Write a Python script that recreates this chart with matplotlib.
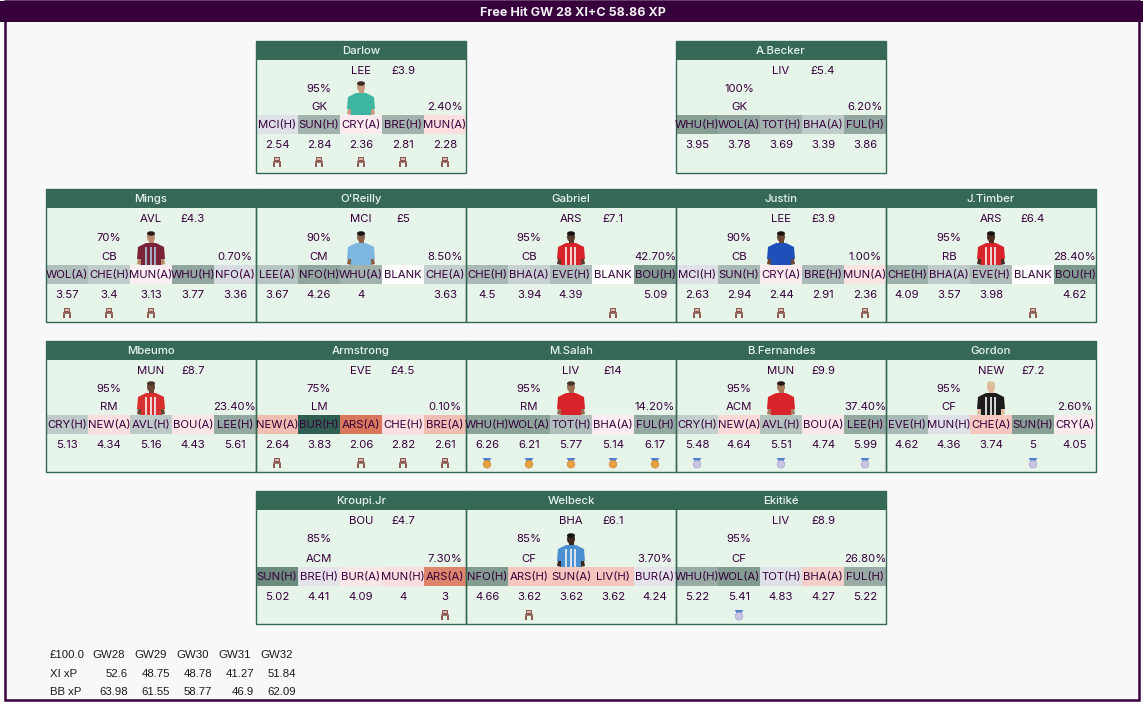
import matplotlib
matplotlib.use("Agg")
import matplotlib.pyplot as plt
from matplotlib.colors import LinearSegmentedColormap
from matplotlib.patches import Rectangle, Polygon, Circle, Ellipse

plt.rcParams['font.family'] = ['Inter', 'DejaVu Sans']

# Data
title = "Free Hit GW 28 XI+C 58.86 XP"
players = ["Darlow", "A.Becker", "Mings", "O'Reilly", "Gabriel", "Justin", "J.Timber", "Mbeumo",
           "Armstrong", "M.Salah", "B.Fernandes", "Gordon", "Kroupi.Jr", "Welbeck", "Ekitiké"]
teams = ["LEE", "LIV", "AVL", "MCI", "ARS", "LEE", "ARS", "MUN", "EVE", "LIV", "MUN", "NEW", "BOU", "BHA", "LIV"]
prices = ["£3.9", "£5.4", "£4.3", "£5", "£7.1", "£3.9", "£6.4", "£8.7", "£4.5", "£14", "£9.9", "£7.2", "£4.7", "£6.1", "£8.9"]
chances = ["95%", "100%", "70%", "90%", "95%", "90%", "95%", "95%", "75%", "95%", "95%", "95%", "85%", "85%", "95%"]
positions = ["GK", "GK", "CB", "CM", "CB", "CB", "RB", "RM", "LM", "RM", "ACM", "CF", "ACM", "CF", "CF"]
ownership = ["2.40%", "6.20%", "0.70%", "8.50%", "42.70%", "1.00%", "28.40%", "23.40%", "0.10%",
             "14.20%", "37.40%", "2.60%", "7.30%", "3.70%", "26.80%"]

fixtures = [
    ["MCI(H)", "SUN(H)", "CRY(A)", "BRE(H)", "MUN(A)"],
    ["WHU(H)", "WOL(A)", "TOT(H)", "BHA(A)", "FUL(H)"],
    ["WOL(A)", "CHE(H)", "MUN(A)", "WHU(H)", "NFO(A)"],
    ["LEE(A)", "NFO(H)", "WHU(A)", "BLANK", "CHE(A)"],
    ["CHE(H)", "BHA(A)", "EVE(H)", "BLANK", "BOU(H)"],
    ["MCI(H)", "SUN(H)", "CRY(A)", "BRE(H)", "MUN(A)"],
    ["CHE(H)", "BHA(A)", "EVE(H)", "BLANK", "BOU(H)"],
    ["CRY(H)", "NEW(A)", "AVL(H)", "BOU(A)", "LEE(H)"],
    ["NEW(A)", "BUR(H)", "ARS(A)", "CHE(H)", "BRE(A)"],
    ["WHU(H)", "WOL(A)", "TOT(H)", "BHA(A)", "FUL(H)"],
    ["CRY(H)", "NEW(A)", "AVL(H)", "BOU(A)", "LEE(H)"],
    ["EVE(H)", "MUN(H)", "CHE(A)", "SUN(H)", "CRY(A)"],
    ["SUN(H)", "BRE(H)", "BUR(A)", "MUN(H)", "ARS(A)"],
    ["NFO(H)", "ARS(H)", "SUN(A)", "LIV(H)", "BUR(A)"],
    ["WHU(H)", "WOL(A)", "TOT(H)", "BHA(A)", "FUL(H)"],
]
xp = [
    ["2.54", "2.84", "2.36", "2.81", "2.28"],
    ["3.95", "3.78", "3.69", "3.39", "3.86"],
    ["3.57", "3.4", "3.13", "3.77", "3.36"],
    ["3.67", "4.26", "4", "", "3.63"],
    ["4.5", "3.94", "4.39", "", "5.09"],
    ["2.63", "2.94", "2.44", "2.91", "2.36"],
    ["4.09", "3.57", "3.98", "", "4.62"],
    ["5.13", "4.34", "5.16", "4.43", "5.61"],
    ["2.64", "3.83", "2.06", "2.82", "2.61"],
    ["6.26", "6.21", "5.77", "5.14", "6.17"],
    ["5.48", "4.64", "5.51", "4.74", "5.99"],
    ["4.62", "4.36", "3.74", "5", "4.05"],
    ["5.02", "4.41", "4.09", "4", "3"],
    ["4.66", "3.62", "3.62", "3.62", "4.24"],
    ["5.22", "5.41", "4.83", "4.27", "5.22"],
]
# fixture shade, -1 hard to 1 easy, None for a blank gameweek
ratings = [
    [.2, .6, -.05, .6, -.2],
    [.75, .7, .6, .4, .7],
    [.5, .4, 0, .7, .25],
    [.45, .7, .6, None, .38],
    [.55, .35, .52, None, .8],
    [.2, .55, -.05, .55, -.15],
    [.62, .4, .52, None, .8],
    [.42, -.2, .42, -.12, .68],
    [-.5, 1, -1, -.2, -.5],
    [.72, .72, .5, -.02, .68],
    [.38, -.25, .48, -.1, .68],
    [.55, .2, -.4, .75, -.05],
    [.85, .15, -.12, -.2, -.9],
    [.78, -.4, -.42, -.42, .15],
    [.65, .78, .2, -.35, .65],
]
# c bench, g first-choice medal, s second-choice medal
icons = ["ccccc", "     ", "ccc  ", "     ", "   c ", "ccc c", "   c ", "     ",
         "c ccc", "ggggg", "s s s", "   s ", "    c", " c   ", " s   "]

table_corner = "£100.0"
table_gws = ["GW28", "GW29", "GW30", "GW31", "GW32"]
table_labels = ["XI xP", "BB xP"]
xi_xp = ["52.6", "48.75", "48.78", "41.27", "51.84"]
bb_xp = ["63.98", "61.55", "58.77", "46.9", "62.09"]

# Layout, in pixels of the reference
W, H = 1143, 702
card_w, cell_w = 210, 42
grid_left = 46
row_cols = [[1, 3], [0, 1, 2, 3, 4], [0, 1, 2, 3, 4], [1, 2, 3]]
row_top = [41, 189, 341, 491]
row_bottom = [172.5, 322, 472, 624]
row_fix = [115, 265, 415, 567]
row_lines = [[70, 88, 106, 144, 162], [218, 237, 256, 294, 313], [370, 388, 406, 444, 463], [520, 538.5, 558, 596, 615]]

PURPLE = "#37003c"
GREEN = "#356855"
BODY = "#e7f4ea"
shade = LinearSegmentedColormap.from_list("fix", [
    (0.0, "#d9775d"), (0.25, "#f0bdb2"), (0.4, "#fbdfe0"), (0.5, "#fbeef3"),
    (0.6, "#dfe1e8"), (0.7, "#c0cdca"), (0.8, "#a2b3ae"), (0.9, "#7f9a8e"), (1.0, "#2f5f50")])

# shirt, second shirt colour, skin, hair; no photo for the rest
photos = {
    "Darlow": ("#3cb6a0", None, "#c99a80", "#3a2a22"),
    "Mings": ("#7a2338", "#a9c4dc", "#b98a6c", "#2a1d18"),
    "O'Reilly": ("#7db6e0", None, "#8a6248", "#151515"),
    "Gabriel": ("#d8232a", "#f2f2f2", "#5a3a2c", "#181210"),
    "Justin": ("#1f4fb8", None, "#6b4632", "#181210"),
    "J.Timber": ("#d8232a", "#f2f2f2", "#4a2e24", "#181210"),
    "Mbeumo": ("#d8302f", "#f2f2f2", "#6b4632", "#4a352a"),
    "M.Salah": ("#d8232a", None, "#9a6e52", "#4a352a"),
    "B.Fernandes": ("#d8232a", None, "#a87a5c", "#241a16"),
    "Gordon": ("#1c1c1c", "#f2f2f2", "#e0b89c", "#d8c49a"),
    "Welbeck": ("#4a8fd0", "#f2f2f2", "#3e271e", "#151515"),
}


def txt(ax, x, y, s, size=8.2, color=PURPLE, **kw):
    kw.setdefault("ha", "center")
    ax.text(x, y + 0.7, s, fontsize=size, color=color, va="center", **kw)


def draw_chair(ax, x, y):
    c = "#8c5a50"
    ax.add_patch(Rectangle((x - 3, y - 5), 6, 4, fc=c, ec="none"))
    ax.add_patch(Rectangle((x - 1.6, y - 3.8), 3.2, 1.4, fc="#d8b8ac", ec="none"))
    ax.add_patch(Polygon([(x - 3.8, y - 1), (x + 3.8, y - 1), (x + 4, y + 0.8), (x - 4, y + 0.8)], fc=c, ec="none"))
    ax.add_patch(Rectangle((x - 3.9, y + 0.8), 1.7, 4, fc=c, ec="none"))
    ax.add_patch(Rectangle((x + 2.2, y + 0.8), 1.7, 4, fc=c, ec="none"))


def draw_medal(ax, x, y, face, rim):
    ax.add_patch(Polygon([(x - 4.4, y - 5), (x + 4.4, y - 5), (x + 1.6, y - 0.8), (x - 1.6, y - 0.8)], fc="#4f7fd0", ec="none"))
    ax.add_patch(Circle((x, y + 1.2), 3.8, fc=face, ec=rim, lw=0.5))


def draw_photo(ax, cx, base, look):
    shirt, second, skin, hair = look
    # arms, then neck, shirt and head
    ax.add_patch(Polygon([(cx - 11, base - 17), (cx - 14, base - 1), (cx - 9.5, base), (cx - 7, base - 14)], fc=skin, ec="none"))
    ax.add_patch(Polygon([(cx + 11, base - 17), (cx + 14, base - 1), (cx + 9.5, base), (cx + 7, base - 14)], fc=skin, ec="none"))
    ax.add_patch(Rectangle((cx - 2.5, base - 26), 5, 6, fc=skin, ec="none"))
    ax.add_patch(Polygon([(cx - 5, base - 22), (cx + 5, base - 22), (cx + 13, base - 18), (cx + 14, base - 6), (cx + 10, base - 6),
                          (cx + 10, base), (cx - 10, base), (cx - 10, base - 6), (cx - 14, base - 6), (cx - 13, base - 18)],
                         fc=shirt, ec="none"))
    if second is not None:
        for off in (-6, -1.5, 3):
            ax.add_patch(Rectangle((cx + off, base - 18), 2.4, 18, fc=second, ec="none", alpha=0.85))
    ax.add_patch(Ellipse((cx, base - 28), 8, 10, fc=skin, ec="none"))
    ax.add_patch(Ellipse((cx, base - 31.5), 8, 4.5, fc=hair, ec="none"))


fig = plt.figure(figsize=(W / 100, H / 100), dpi=100, facecolor="white")
ax = fig.add_axes([0, 0, 1, 1])
ax.set_xlim(0, W)
ax.set_ylim(H, 0)
ax.axis("off")

# page frame and title bar
ax.add_patch(Rectangle((5, 1), 1134, 699, fc="#f8f8fb", ec=PURPLE, lw=1.8))
ax.add_patch(Rectangle((0, 1), W, 21, fc=PURPLE, ec="none"))
txt(ax, 573, 12, title, size=9, color="#f4f0f6", fontweight="bold")

idx = 0
for r, cols in enumerate(row_cols):
    top, bottom, fix = row_top[r], row_bottom[r], row_fix[r]
    lines = row_lines[r]
    for col in cols:
        left = grid_left + col * card_w
        centers = [left + cell_w * (i + 0.5) for i in range(5)]
        ax.add_patch(Rectangle((left, top), card_w, bottom - top, fc=BODY, ec="none", zorder=1))

        txt(ax, centers[2], lines[0], teams[idx], zorder=5)
        txt(ax, centers[3], lines[0], prices[idx], zorder=5)
        txt(ax, centers[1], lines[1], chances[idx], zorder=5)
        txt(ax, centers[1], lines[2], positions[idx], zorder=5)
        txt(ax, centers[4], lines[2], ownership[idx], zorder=5)

        if players[idx] in photos:
            draw_photo(ax, centers[2], fix, photos[players[idx]])

        for i in range(5):
            rating = ratings[idx][i]
            fc = "white" if rating is None else shade((rating + 1) / 2)
            ax.add_patch(Rectangle((left + i * cell_w, fix), cell_w, 19, fc=fc, ec="none", zorder=2))
            txt(ax, centers[i], fix + 9.5, fixtures[idx][i], zorder=5)
            txt(ax, centers[i], lines[3], xp[idx][i], zorder=5)
            if icons[idx][i] == "c":
                draw_chair(ax, centers[i], lines[4])
            elif icons[idx][i] == "g":
                draw_medal(ax, centers[i], lines[4], "#e8a040", "#d08a30")
            elif icons[idx][i] == "s":
                draw_medal(ax, centers[i], lines[4], "#c8c4e4", "#a8a4d0")

        ax.add_patch(Rectangle((left, top), card_w, 19, fc=GREEN, ec="none", zorder=3))
        txt(ax, centers[2], top + 9.5, players[idx], color="#e8f5ec", fontweight="medium", zorder=5)
        ax.add_patch(Rectangle((left, top), card_w, bottom - top, fc="none", ec=GREEN, lw=1, zorder=4))
        idx += 1

# summary table in the bottom left corner
table_font = "Liberation Sans"
table_x = [92, 134, 176, 218, 260]
table_right = [128, 170, 212, 254, 296]
table_y = [654, 673, 691]
txt(ax, 50, table_y[0], table_corner, size=8.2, color="#1a1a1a", ha="left", family=table_font)
for i, gw in enumerate(table_gws):
    txt(ax, table_x[i], table_y[0], gw, size=8.2, color="#1a1a1a", ha="left", family=table_font)
for j, (label, values) in enumerate(zip(table_labels, [xi_xp, bb_xp])):
    txt(ax, 50, table_y[j + 1], label, size=8.2, color="#1a1a1a", ha="left", family=table_font)
    for i, v in enumerate(values):
        txt(ax, table_right[i], table_y[j + 1], v, size=8.2, color="#1a1a1a", ha="right", family=table_font)

fig.savefig("out.png", dpi=100)
